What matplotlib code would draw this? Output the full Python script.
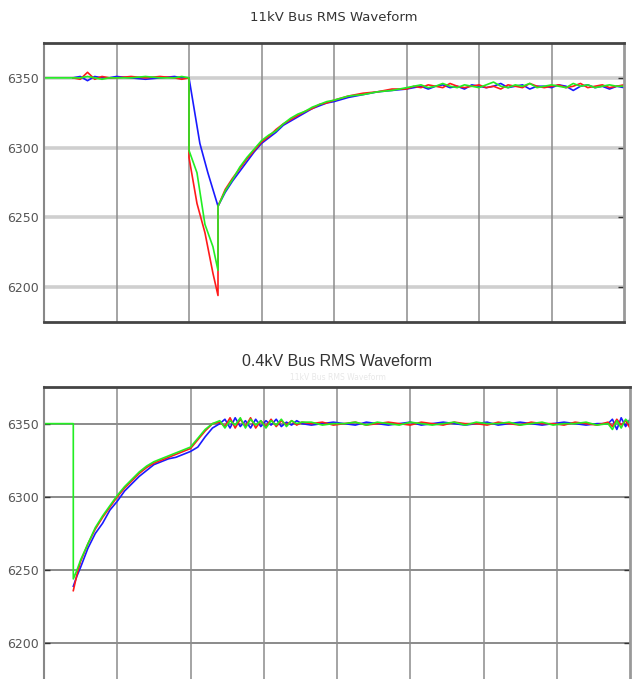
import matplotlib
matplotlib.use("Agg")
import matplotlib.pyplot as plt

# ---- 11kV bus (top panel) ----
t_top_pre = [0.4, 0.5, 0.6, 0.7, 0.8, 0.9, 1.0, 1.2, 1.4, 1.6, 1.8, 1.9, 2.0]
t_top_rec = [2.4, 2.5, 2.6, 2.7, 2.8, 2.9, 3.0, 3.1, 3.2, 3.3, 3.4, 3.5, 3.6, 3.7, 3.8, 3.9, 4.0,
             4.2, 4.4, 4.6, 4.8, 5.0,
             5.1, 5.2, 5.3, 5.4, 5.5, 5.6, 5.7, 5.8, 5.9, 6.0, 6.1, 6.2, 6.3, 6.4, 6.5,
             6.6, 6.7, 6.8, 6.9, 7.0, 7.1, 7.2, 7.3, 7.4, 7.5, 7.6, 7.7, 7.8, 7.9, 8.0]

blue_top_pre = [6350, 6351, 6348, 6351, 6350, 6350, 6351, 6350, 6349, 6350, 6351, 6350, 6350]
red_top_pre = [6350, 6349, 6354, 6349, 6351, 6350, 6350, 6351, 6350, 6351, 6350, 6349, 6350]
green_top_pre = [6350, 6350, 6351, 6350, 6349, 6350, 6350, 6350, 6351, 6350, 6350, 6351, 6350]

blue_top_fault_t = [2.15, 2.26]
blue_top_fault = [6303, 6282]
red_top_fault_t = [2.0, 2.11, 2.22, 2.33, 2.4]
red_top_fault = [6293, 6260, 6239, 6210, 6194]
green_top_fault_t = [2.0, 2.11, 2.22, 2.33, 2.4]
green_top_fault = [6298, 6282, 6245, 6229, 6212]

blue_top_rec = [6258, 6268, 6276, 6283, 6290, 6297, 6303, 6307, 6311, 6316, 6319, 6322, 6325, 6328,
                6330, 6332, 6333, 6336, 6338, 6340, 6341, 6342,
                6343, 6344, 6342, 6344, 6345, 6343, 6344, 6342, 6345, 6344, 6343, 6344, 6346, 6343,
                6344, 6345, 6342, 6344, 6344, 6343, 6345, 6344, 6341, 6344, 6345, 6343, 6344, 6342,
                6344, 6343]
red_top_rec = [6258, 6270, 6278, 6285, 6292, 6298, 6304, 6308, 6313, 6317, 6320, 6323, 6326, 6328,
               6331, 6332, 6334, 6337, 6339, 6340, 6342, 6342,
               6344, 6343, 6345, 6344, 6343, 6346, 6344, 6343, 6344, 6345, 6343, 6344, 6342, 6345,
               6344, 6343, 6346, 6344, 6343, 6344, 6345, 6343, 6344, 6346, 6343, 6344, 6345, 6343,
               6344, 6345]
green_top_rec = [6258, 6269, 6277, 6286, 6293, 6299, 6305, 6309, 6312, 6317, 6321, 6324, 6326, 6329,
                 6331, 6333, 6334, 6337, 6338, 6340, 6341, 6343,
                 6344, 6345, 6343, 6344, 6346, 6344, 6343, 6345, 6344, 6343, 6345, 6347, 6344, 6343,
                 6345, 6344, 6346, 6343, 6344, 6345, 6344, 6343, 6346, 6344, 6345, 6343, 6344, 6345,
                 6344, 6344]

# ---- 0.4kV bus (bottom panel) ----
t_bot = [0.4, 0.45, 0.5, 0.6, 0.7, 0.8, 0.9, 1.0, 1.1, 1.2, 1.3, 1.4, 1.5, 1.6, 1.7, 1.8, 1.9,
         2.0, 2.1, 2.2, 2.3, 2.4,
         2.47, 2.54, 2.61, 2.68, 2.75, 2.82, 2.89, 2.96, 3.03, 3.1, 3.17, 3.24, 3.31, 3.38, 3.45, 3.52,
         3.65, 3.8, 3.95, 4.1, 4.25, 4.4, 4.55, 4.7, 4.85, 5.0, 5.15, 5.3, 5.45, 5.6, 5.75, 5.9,
         6.05, 6.2, 6.35, 6.5, 6.65, 6.8, 6.95, 7.1, 7.25, 7.4, 7.55, 7.7,
         7.76, 7.82, 7.88, 7.94, 8.0]

red_bot = [6236, 6247, 6256, 6268, 6278, 6286, 6293, 6300, 6306, 6311, 6316, 6320, 6323, 6325,
           6327, 6329, 6331, 6333, 6339, 6345, 6350, 6351,
           6348, 6354, 6347, 6353, 6348, 6354, 6347, 6352, 6348, 6353, 6348, 6352, 6349, 6352, 6349, 6351,
           6350, 6351, 6349, 6350, 6351, 6349, 6350, 6351, 6350, 6349, 6351, 6350, 6349, 6351,
           6350, 6350, 6349, 6351, 6350, 6349, 6351, 6350, 6350, 6349, 6351, 6350, 6349, 6351,
           6348, 6353, 6349, 6352, 6347]
blue_bot = [6239, 6246, 6252, 6265, 6275, 6282, 6291, 6297, 6304, 6309, 6314, 6318, 6322, 6324,
            6326, 6327, 6329, 6331, 6334, 6341, 6347, 6350,
            6353, 6347, 6354, 6348, 6352, 6347, 6353, 6348, 6352, 6349, 6353, 6348, 6351, 6349, 6352, 6350,
            6349, 6350, 6351, 6350, 6349, 6351, 6350, 6349, 6350, 6351, 6349, 6350, 6351, 6350,
            6349, 6350, 6351, 6349, 6350, 6351, 6350, 6349, 6350, 6351, 6350, 6349, 6350, 6350,
            6353, 6346, 6354, 6348, 6353]
green_bot_pre_t = [0.0, 0.4]
green_bot_pre = [6350, 6350]
green_bot = [6244, 6250, 6257, 6268, 6279, 6287, 6294, 6301, 6307, 6312, 6317, 6321, 6324, 6326,
             6328, 6330, 6332, 6334, 6340, 6346, 6350, 6352,
             6347, 6352, 6349, 6354, 6347, 6353, 6349, 6352, 6347, 6352, 6349, 6353, 6348, 6352, 6350, 6351,
             6351, 6349, 6350, 6350, 6351, 6349, 6351, 6350, 6349, 6351, 6350, 6349, 6350, 6351,
             6349, 6351, 6350, 6350, 6351, 6349, 6350, 6351, 6349, 6350, 6350, 6351, 6349, 6350,
             6346, 6352, 6347, 6353, 6350]

y_ticks = [6200, 6250, 6300, 6350]
x_grid = [1, 2, 3, 4, 5, 6, 7]

narrow = ['Liberation Sans Narrow', 'DejaVu Sans']
RED, GREEN, BLUE = '#ff1a1a', '#22ee22', '#1a1aff'

fig = plt.figure(figsize=(6.37, 6.79), dpi=100)
ax1 = fig.add_axes([44 / 637, 1 - 322 / 679, 580 / 637, 279 / 679])
ax2 = fig.add_axes([44 / 637, 1 - 680 / 679, 586 / 637, 293 / 679])


def style_axes(ax, hcolor, hwidth):
    ax.set_xlim(0, 8)
    ax.set_ylim(6175, 6375)
    ax.set_xticks(x_grid)
    ax.set_yticks(y_ticks)
    ax.set_xticklabels([])
    for y in y_ticks:
        ax.axhline(y, color=hcolor, lw=hwidth, zorder=0)
    for x in x_grid:
        ax.axvline(x, color='#8c8c8c', lw=1.1, zorder=0)
    ax.tick_params(axis='x', length=0)
    ax.tick_params(axis='y', direction='in', length=4, width=1, color='#333333',
                   right=True, pad=4, labelcolor='#555555')
    for lab in ax.get_yticklabels():
        lab.set_family(narrow)
        lab.set_fontsize(9)
    ax.spines['top'].set_color('#444444')
    ax.spines['top'].set_linewidth(2)
    ax.spines['bottom'].set_color('#444444')
    ax.spines['bottom'].set_linewidth(2)
    ax.spines['left'].set_color('#888888')
    ax.spines['left'].set_linewidth(1.5)
    ax.spines['right'].set_color('#999999')
    ax.spines['right'].set_linewidth(2)


style_axes(ax1, '#cfcfcf', 2.6)
style_axes(ax2, '#8a8a8a', 1.4)
ax1.tick_params(axis='y', left=False)
ax2.spines['bottom'].set_visible(False)

# top panel traces
ax1.plot(t_top_pre + blue_top_fault_t + t_top_rec, blue_top_pre + blue_top_fault + blue_top_rec,
         color=BLUE, lw=1.2)
ax1.plot(t_top_pre + red_top_fault_t + t_top_rec, red_top_pre + red_top_fault + red_top_rec,
         color=RED, lw=1.2)
ax1.plot([0.0] + t_top_pre + green_top_fault_t + t_top_rec,
         [6350] + green_top_pre + green_top_fault + green_top_rec, color=GREEN, lw=1.2)

# bottom panel traces
ax2.plot(t_bot, blue_bot, color=BLUE, lw=1.2)
ax2.plot(t_bot, red_bot, color=RED, lw=1.2)
ax2.plot(green_bot_pre_t + t_bot, green_bot_pre + green_bot, color=GREEN, lw=1.2)

ax1.set_title('11kV Bus RMS Waveform', family=narrow, fontsize=9.5, color='#333333', pad=16)
ax2.set_title('0.4kV Bus RMS Waveform', family='Liberation Sans', fontsize=11.5, color='#333333',
              pad=15)
fig.text(338 / 637, 1 - 378 / 679, '11kV Bus RMS Waveform', family=narrow, fontsize=5.5,
         color='#e8e8e8', ha='center', va='center')

fig.savefig('out.png', dpi=100)
